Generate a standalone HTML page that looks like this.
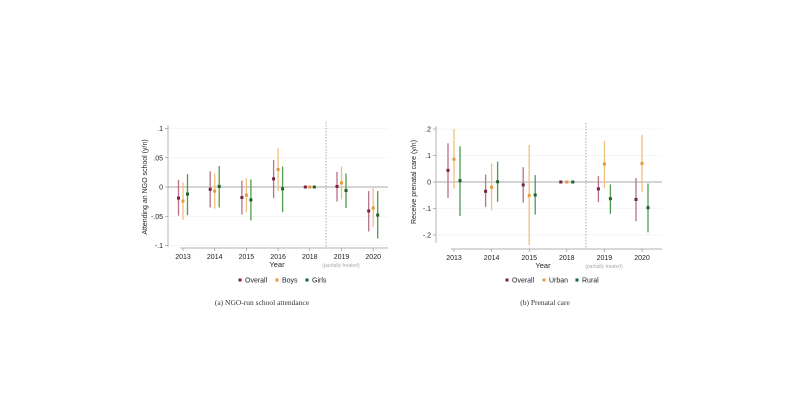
<!DOCTYPE html>
<html><head><meta charset="utf-8"><style>
html,body{margin:0;padding:0;background:#fff;}
svg{display:block;font-family:"Liberation Sans",sans-serif;}
.cap{font-family:"Liberation Serif",serif;}
</style></head><body>
<svg id="s" width="800" height="419" viewBox="0 0 800 419"></svg>
<script>
// Panel A data
const yearsA = ["2013","2014","2015","2016","2018","2019","2020"];
const overallA = [-0.019,-0.004,-0.018,0.014,0,0.001,-0.041];
const overallALo = [-0.049,-0.035,-0.047,-0.019,0,-0.025,-0.076];
const overallAHi = [0.012,0.027,0.011,0.046,0,0.026,-0.007];
const boysA = [-0.024,-0.007,-0.014,0.030,0,0.007,-0.036];
const boysALo = [-0.056,-0.037,-0.043,-0.007,0,-0.021,-0.068];
const boysAHi = [0.008,0.023,0.015,0.066,0,0.035,-0.002];
const girlsA = [-0.012,0.001,-0.022,-0.003,0,-0.006,-0.048];
const girlsALo = [-0.048,-0.035,-0.057,-0.043,0,-0.036,-0.088];
const girlsAHi = [0.022,0.036,0.013,0.035,0,0.023,-0.007];
const ticksA = [0.1,0.05,0,-0.05,-0.1];
const tickLabelsA = [".1",".05","0","-.05","-.1"];
// Panel B data
const yearsB = ["2013","2014","2015","2018","2019","2020"];
const overallB = [0.044,-0.035,-0.011,0,-0.026,-0.066];
const overallBLo = [-0.06,-0.094,-0.078,0,-0.076,-0.148];
const overallBHi = [0.146,0.028,0.056,0,0.022,0.015];
const urbanB = [0.086,-0.02,-0.051,0,0.068,0.07];
const urbanBLo = [-0.025,-0.106,-0.238,0,-0.022,-0.038];
const urbanBHi = [0.2,0.07,0.14,0,0.156,0.178];
const ruralB = [0.005,0.001,-0.049,0,-0.063,-0.097];
const ruralBLo = [-0.128,-0.075,-0.123,0,-0.12,-0.19];
const ruralBHi = [0.135,0.077,0.026,0,-0.009,-0.006];
const ticksB = [0.2,0.1,0,-0.1,-0.2];
const tickLabelsB = [".2",".1","0","-.1","-.2"];

const svg=document.getElementById('s');
const NS="http://www.w3.org/2000/svg";
function mk(tag,attrs,parent,text){const e=document.createElementNS(NS,tag);for(const k in attrs)e.setAttribute(k,attrs[k]);if(text!==undefined)e.textContent=text;(parent||svg).appendChild(e);return e;}

const COL={o:["#b8708a","#7a1f3d"],b:["#f0c07a","#e59a3a"],g:["#4f9a4f","#1f5f2a"]};

function panel(cfg){
  const g=mk('g',{});
  
  
  const y=v=>cfg.y0+(cfg.yTop-cfg.y0)*v/cfg.yTopVal;
  const x=i=>cfg.x0+i*cfg.dx;
  // gridlines
  cfg.ticks.forEach((t,i)=>{
    if(t!==0){const l=mk('line',{x1:cfg.axX,x2:cfg.xEnd,y1:y(t),y2:y(t),stroke:"#eeeeee","stroke-width":0.6},g);
      }
    const tk=mk('line',{x1:cfg.axX-3,x2:cfg.axX,y1:y(t),y2:y(t),stroke:"#888","stroke-width":0.6},g);
    
    const tl=mk('text',{x:cfg.axX-5,y:y(t)+2.5,"font-size":7,"text-anchor":"end",fill:"#222"},g,cfg.tickLabels[i]);
    
  });
  // zero line
  const z=mk('line',{x1:cfg.axX,x2:cfg.xEnd,y1:y(0),y2:y(0),stroke:"#aaa","stroke-width":1},g);
  
  // axes
  const ya=mk('line',{x1:cfg.axX,x2:cfg.axX,y1:cfg.axTop,y2:cfg.axBot,stroke:"#999","stroke-width":0.7},g);
  
  const xa=mk('line',{x1:x(0)-3,x2:cfg.xEnd,y1:cfg.xAxY,y2:cfg.xAxY,stroke:"#999","stroke-width":0.7},g);
  
  // dashed
  const d=mk('line',{x1:cfg.dash,x2:cfg.dash,y1:cfg.axTop-3,y2:cfg.xAxY,stroke:"#999","stroke-width":0.8,"stroke-dasharray":"1.5,1.5"},g);
  
  cfg.years.forEach((yr,i)=>{
    const tk=mk('line',{x1:x(i),x2:x(i),y1:cfg.xAxY,y2:cfg.xAxY+3,stroke:"#888","stroke-width":0.6},g);
    
    const tl=mk('text',{x:x(i),y:cfg.xAxY+11,"font-size":7,"text-anchor":"middle",fill:"#222"},g,yr);
    
  });
  cfg.series.forEach(s=>{
    s.pt.forEach((v,i)=>{
      const xx=x(i)+s.off;
      const b=mk('line',{x1:xx,x2:xx,y1:y(s.hi[i]),y2:y(s.lo[i]),stroke:s.c[0],"stroke-width":1.3},g);
      
      const p=mk('rect',{x:xx-1.5,y:y(v)-1.5,width:3,height:3,fill:s.c[1]},g);
      
    });
  });
  const yt=mk('text',{transform:`translate(${cfg.ylabX},${y(0)}) rotate(-90)`,"font-size":7,"text-anchor":"middle",fill:"#222"},g,cfg.ylab);
  
  const xt=mk('text',{x:cfg.yearX,y:cfg.xAxY+19,"font-size":7.5,"text-anchor":"middle",fill:"#222"},g,"Year");
  
  const pt=mk('text',{x:cfg.partX,y:cfg.xAxY+19,"font-size":5,"text-anchor":"middle",fill:"#aaa"},g,"(partially treated)");
  
  cfg.legend.forEach(L=>{
    const r=mk('rect',{x:L.x-1.5,y:278.5,width:3,height:3,fill:L.c},g);
    
    const t=mk('text',{x:L.x+5,y:282.5,"font-size":7,fill:"#222"},g,L.t);
    
  });
  const c=mk('text',{x:cfg.capX,y:305,"font-size":7.5,"text-anchor":"middle",fill:"#333","class":"cap"},g,cfg.cap);
  
}

panel({name:"panel-ngo-attendance",x0:183,dx:31.7,axX:168,xEnd:388,y0:187,yTop:128.5,yTopVal:0.1,axTop:125,axBot:247,xAxY:248,dash:326,
  ticks:ticksA,tickLabels:tickLabelsA,years:yearsA,ylab:"Attending an NGO school (y/n)",ylabX:147,yearX:277,partX:341,
  series:[{name:"overall",off:-4.5,pt:overallA,lo:overallALo,hi:overallAHi,c:COL.o},
          {name:"boys",off:0,pt:boysA,lo:boysALo,hi:boysAHi,c:COL.b},
          {name:"girls",off:4.5,pt:girlsA,lo:girlsALo,hi:girlsAHi,c:COL.g}],
  legend:[{x:240,t:"Overall",c:COL.o[1]},{x:277,t:"Boys",c:COL.b[1]},{x:307,t:"Girls",c:COL.g[1]}],
  capX:262,cap:"(a) NGO-run school attendance"});

panel({name:"panel-prenatal-care",x0:454,dx:37.6,axX:436,xEnd:662,y0:182,yTop:129,yTopVal:0.2,axTop:126,axBot:243,xAxY:249,dash:586,
  ticks:ticksB,tickLabels:tickLabelsB,years:yearsB,ylab:"Receive prenatal care (y/n)",ylabX:416,yearX:543,partX:604,
  series:[{name:"overall",off:-6,pt:overallB,lo:overallBLo,hi:overallBHi,c:COL.o},
          {name:"urban",off:0,pt:urbanB,lo:urbanBLo,hi:urbanBHi,c:COL.b},
          {name:"rural",off:6,pt:ruralB,lo:ruralBLo,hi:ruralBHi,c:COL.g}],
  legend:[{x:507,t:"Overall",c:COL.o[1]},{x:544,t:"Urban",c:COL.b[1]},{x:577,t:"Rural",c:COL.g[1]}],
  capX:545,cap:"(b) Prenatal care"});
</script>
</body></html>
